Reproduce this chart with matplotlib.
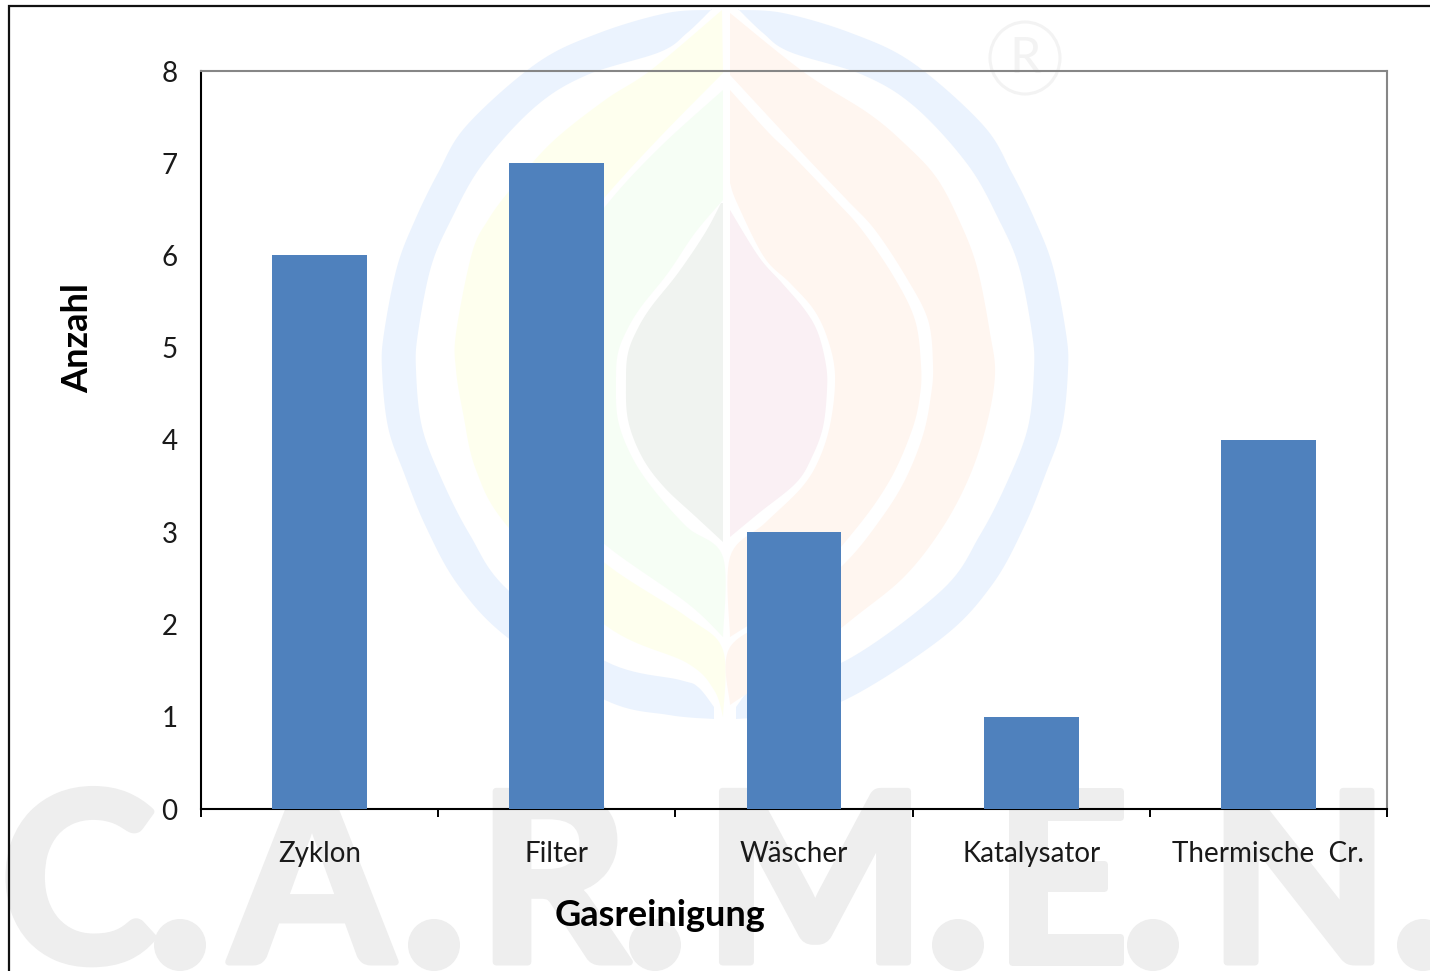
import numpy as np
import matplotlib
matplotlib.use('Agg')
import matplotlib.pyplot as plt
import matplotlib.patheffects as pe
from matplotlib.patches import Polygon, Ellipse

categories = ['Zyklon', 'Filter', 'W\u00e4scher', 'Katalysator', 'Thermische  Cr.']
anzahl = [6, 7, 3, 1, 4]
y_ticks = [0, 1, 2, 3, 4, 5, 6, 7, 8]

W, H = 1430, 971
plt.rcParams['font.family'] = ['Lato', 'DejaVu Sans']


def smooth(points, n=12):
    # catmull-rom through hand read outline points
    p = np.array(points, dtype=float)
    p = np.vstack([p[0], p, p[-1]])
    out = []
    for i in range(1, len(p) - 2):
        for t in np.linspace(0, 1, n, endpoint=False):
            a = 2 * p[i] + (p[i + 1] - p[i - 1]) * t
            b = (2 * p[i - 1] - 5 * p[i] + 4 * p[i + 1] - p[i + 2]) * t ** 2
            c = (3 * p[i] - p[i - 1] - 3 * p[i + 1] + p[i + 2]) * t ** 3
            out.append(0.5 * (a + b + c))
    out.append(p[-2])
    return np.array(out)


def shape(bg, edge1, edge2, color):
    poly = np.vstack([smooth(edge1), smooth(edge2)[::-1]])
    bg.add_patch(Polygon(poly, closed=True, fc=color, ec='none', zorder=1))


fig = plt.figure(figsize=(W / 100, H / 100), dpi=100, facecolor='white')

# background layer in pixel coordinates: watermark and frame
bg = fig.add_axes([0, 0, 1, 1])
bg.set_xlim(0, W)
bg.set_ylim(H, 0)
bg.axis('off')

ring_outer = [(712, 10), (667, 13), (599, 33), (537, 63), (467, 125), (438, 173), (415, 220),
              (397, 267), (384, 333), (382, 370), (388, 427), (404, 473), (426, 527), (458, 585),
              (508, 638), (605, 700), (669, 715), (714, 719)]
ring_inner = [(712, 9), (687, 33), (660, 52), (587, 75), (535, 107), (482, 165), (451, 220),
              (431, 267), (418, 333), (416, 370), (422, 427), (442, 480), (470, 535), (508, 590),
              (605, 661), (680, 680), (698, 687), (714, 707)]
ring_blue = '#EBF3FE'
shape(bg, ring_outer, ring_inner, ring_blue)
shape(bg, [(1450 - x, y) for x, y in ring_outer], [(1450 - x, y) for x, y in ring_inner], ring_blue)

shape(bg,
      [(722, 10), (651, 70), (605, 100), (551, 143), (510, 190), (488, 220), (472, 253),
       (456, 333), (456, 370), (463, 413), (476, 470), (508, 527), (605, 625), (687, 663),
       (714, 690), (723, 717)],
      [(723, 73), (660, 137), (605, 197), (545, 270), (522, 335), (518, 380), (525, 440),
       (550, 505), (605, 563), (687, 617), (723, 650), (723, 717)],
      '#FEFFEE')
shape(bg,
      [(723, 90), (660, 147), (608, 203), (560, 270), (533, 335), (529, 380), (535, 440),
       (560, 500), (608, 547), (687, 603), (723, 637)],
      [(723, 200), (695, 233), (668, 273), (641, 307), (627, 330), (618, 353), (616, 380),
       (618, 420), (632, 457), (654, 490), (687, 527), (723, 557), (723, 637)],
      '#F6FEF5')
shape(bg,
      [(721, 203), (705, 233), (678, 273), (651, 307), (637, 330), (628, 353), (626, 380),
       (628, 420), (642, 457), (664, 487), (696, 517), (723, 542)],
      [(723, 203), (723, 542)],
      '#F0F3F0')
shape(bg,
      [(730, 210), (759, 257), (782, 283), (805, 310), (818, 333), (826, 365), (827, 390),
       (823, 427), (812, 457), (796, 483), (759, 513), (730, 537)],
      [(730, 210), (730, 537)],
      '#FAF0F4')
shape(bg,
      [(730, 13), (805, 73), (868, 113), (904, 143), (936, 177), (959, 220), (977, 267),
       (990, 333), (995, 375), (986, 427), (968, 480), (941, 530), (904, 577), (855, 617),
       (800, 660), (745, 695), (730, 705)],
      [(730, 75), (806, 157), (847, 200), (875, 230), (906, 277), (928, 320), (933, 365),
       (931, 395), (923, 435), (905, 480), (880, 520), (845, 563), (790, 610), (730, 647),
       (730, 705)],
      '#FFF6F0')
shape(bg,
      [(730, 90), (769, 133), (794, 157), (835, 200), (862, 230), (894, 277), (915, 320),
       (921, 365), (920, 395), (912, 430), (890, 480), (855, 530), (800, 590), (730, 637)],
      [(730, 183), (737, 203), (764, 257), (790, 283), (814, 310), (828, 340), (835, 375),
       (831, 420), (820, 457), (802, 487), (765, 523), (730, 557), (730, 637)],
      '#FFF6F0')

# registered mark
bg.add_patch(Ellipse((1025, 58), 70, 72, fc='none', ec='#F3F3F3', lw=2.2, zorder=1))
bg.text(1025, 59, 'R', fontsize=36, color='#F3F3F3', ha='center', va='center', zorder=1)

# C.A.R.M.E.N. letters
letter_gray = '#EEEEEE'
for letter, cx in zip('CARMEN', [78, 312, 553, 815, 1061, 1299]):
    bg.text(cx, 962, letter, fontsize=170, fontweight='bold', color=letter_gray,
            ha='center', va='baseline', zorder=1,
            path_effects=[pe.withStroke(linewidth=5, foreground=letter_gray)])
for cx in [180, 434, 655, 958, 1153, 1423]:
    bg.add_patch(Ellipse((cx, 945), 52, 52, fc=letter_gray, ec='none', zorder=1))

# frame of the picture
bg.plot([9, 9, W], [H, 6, 6], color='#111111', lw=1.6, solid_joinstyle='miter', zorder=2)

# chart
ax = fig.add_axes([201 / W, 1 - 809 / H, (1387 - 201) / W, (809 - 71) / H])
ax.patch.set_alpha(0)
x = np.arange(len(categories))
ax.bar(x, anzahl, width=0.4, color='#4F81BD', zorder=3)
ax.set_xlim(-0.5, len(categories) - 0.5)
ax.set_ylim(0, 8)
ax.set_yticks(y_ticks)
ax.set_xticks(np.arange(len(categories) + 1) - 0.5)
ax.set_xticklabels([])
ax.set_xticks(x, labels=categories, minor=True)

ax.tick_params(axis='y', length=0, pad=17, labelsize=20, labelcolor='#1a1a1a')
ax.tick_params(axis='x', which='major', length=6, width=1.4, color='black')
ax.tick_params(axis='x', which='minor', length=0, pad=23, labelsize=20, labelcolor='#1a1a1a')

for side in ['left', 'bottom']:
    ax.spines[side].set_color('black')
    ax.spines[side].set_linewidth(1.5)
for side in ['top', 'right']:
    ax.spines[side].set_color('#868686')
    ax.spines[side].set_linewidth(1.5)

ax.set_xlabel('Gasreinigung', fontsize=26, fontweight='bold', color='black', va='center')
ax.xaxis.set_label_coords((660 - 201) / 1186, (809 - 915) / 738)
ax.set_ylabel('Anzahl', fontsize=26, fontweight='bold', color='black', va='center')
ax.yaxis.set_label_coords((78 - 201) / 1186, (809 - 338) / 738)

plt.savefig('out.png', dpi=100)
